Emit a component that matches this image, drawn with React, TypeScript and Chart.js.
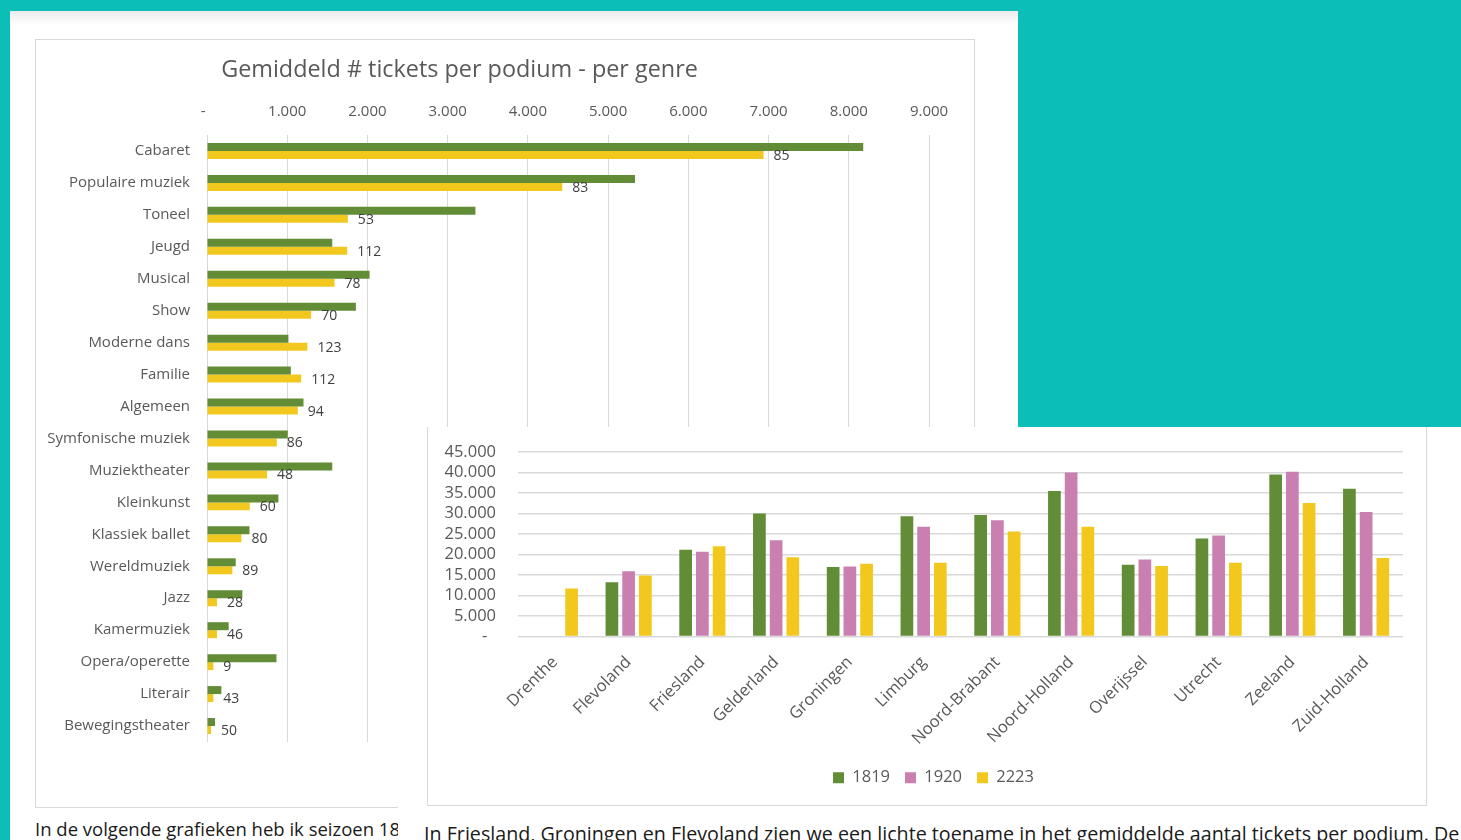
import React, { useEffect, useRef } from "react";
import { Chart, registerables } from "chart.js";

Chart.register(...registerables);

// ---------- Chart 1: Gemiddeld # tickets per podium - per genre ----------
const genres = [
  "Cabaret",
  "Populaire muziek",
  "Toneel",
  "Jeugd",
  "Musical",
  "Show",
  "Moderne dans",
  "Familie",
  "Algemeen",
  "Symfonische muziek",
  "Muziektheater",
  "Kleinkunst",
  "Klassiek ballet",
  "Wereldmuziek",
  "Jazz",
  "Kamermuziek",
  "Opera/operette",
  "Literair",
  "Bewegingstheater",
];
const genreTickets1819 = [8180, 5335, 3346, 1561, 2026, 1856, 1015, 1045, 1203, 1007, 1561, 890, 529, 358, 441, 270, 866, 179, 100];
const genreTickets2223 = [6937, 4428, 1756, 1748, 1590, 1298, 1252, 1174, 1132, 870, 749, 533, 429, 316, 125, 125, 79, 79, 50];
const genrePodiums2223 = [85, 83, 53, 112, 78, 70, 123, 112, 94, 86, 48, 60, 80, 89, 28, 46, 9, 43, 50];
const genreAxisMax = 9000;
const genreAxisStep = 1000;

// ---------- Chart 2: per provincie ----------
const provinces = [
  "Drenthe",
  "Flevoland",
  "Friesland",
  "Gelderland",
  "Groningen",
  "Limburg",
  "Noord-Brabant",
  "Noord-Holland",
  "Overijssel",
  "Utrecht",
  "Zeeland",
  "Zuid-Holland",
];
const province1819 = [null, 13230, 21160, 29970, 16950, 29330, 29650, 35480, 17520, 23900, 39520, 36040];
const province1920 = [null, 15900, 20670, 23500, 17100, 26740, 28350, 40000, 18800, 24630, 40170, 30380];
const province2223 = [11700, 14850, 22040, 19300, 17760, 18000, 25600, 26740, 17190, 18000, 32570, 19130];
const provinceAxisMax = 45000;
const provinceAxisStep = 5000;

const GREEN = "#628d36";
const PINK = "#c980b1";
const YELLOW = "#f2c81e";
const GRID = "#d9d9d9";
const TEXT = "#595959";
const FONT = "'Open Sans', sans-serif";
const TEAL = "#0bbfb8";

function fmtThousands(v: number, dash: string): string {
  if (v === 0) return dash;
  return String(Math.round(v)).replace(/\B(?=(\d{3})+(?!\d))/g, ".");
}

const barLabelPlugin = {
  id: "barLabels",
  afterDatasetsDraw(chart: any) {
    const meta = chart.getDatasetMeta(1);
    const ctx = chart.ctx;
    ctx.save();
    ctx.font = `14px ${FONT}`;
    ctx.fillStyle = "#404040";
    ctx.textAlign = "left";
    ctx.textBaseline = "middle";
    meta.data.forEach((el: any, i: number) => {
      ctx.fillText(String(genrePodiums2223[i]), el.x + 10, el.y + 1);
    });
    ctx.restore();
  },
};

function GenreChart() {
  const ref = useRef<HTMLCanvasElement | null>(null);
  useEffect(() => {
    if (!ref.current) return;
    const chart = new Chart(ref.current, {
      type: "bar",
      data: {
        labels: genres,
        datasets: [
          {
            label: "1819",
            data: genreTickets1819,
            backgroundColor: GREEN,
            categoryPercentage: 0.5,
            barPercentage: 1.0,
          },
          {
            label: "2223",
            data: genreTickets2223,
            backgroundColor: YELLOW,
            categoryPercentage: 0.5,
            barPercentage: 1.0,
          },
        ],
      },
      options: {
        indexAxis: "y",
        animation: false,
        responsive: false,
        layout: { padding: { left: 0, right: 31, top: 0, bottom: 65 } },
        plugins: {
          legend: { display: false },
          tooltip: { enabled: false },
          title: {
            display: true,
            text: "Gemiddeld # tickets per podium - per genre",
            color: TEXT,
            font: { family: FONT, size: 23.4, weight: "normal" },
            padding: { top: 15, bottom: 8 },
          },
        },
        scales: {
          x: {
            position: "top",
            min: 0,
            max: genreAxisMax,
            ticks: {
              stepSize: genreAxisStep,
              color: TEXT,
              font: { family: FONT, size: 15 },
              padding: 14,
              maxRotation: 0,
              callback: (v: any) => fmtThousands(Number(v), "-  "),
            },
            grid: { color: GRID, drawTicks: false, lineWidth: 1 },
            border: { display: false },
            afterFit: (s: any) => {
              s.height = 42.9;
              s.paddingLeft = 0;
              s.paddingRight = 0;
            },
          },
          y: {
            ticks: {
              color: TEXT,
              font: { family: FONT, size: 15 },
              padding: 17,
              autoSkip: false,
            },
            grid: { display: false, drawTicks: false },
            border: { display: false },
            afterFit: (s: any) => {
              s.width = 217;
              s.paddingTop = 0;
              s.paddingBottom = 0;
            },
          },
        },
      },
      plugins: [barLabelPlugin],
    } as any);
    return () => chart.destroy();
  }, []);
  return (
    <canvas
      ref={ref}
      width={970}
      height={766}
      style={{ position: "absolute", left: -10, top: 41, width: 970, height: 766 }}
    />
  );
}

function ProvinceChart() {
  const ref = useRef<HTMLCanvasElement | null>(null);
  useEffect(() => {
    if (!ref.current) return;
    const chart = new Chart(ref.current, {
      type: "bar",
      data: {
        labels: provinces,
        datasets: [
          { label: "1819", data: province1819, backgroundColor: GREEN, categoryPercentage: 0.68, barPercentage: 0.76 },
          { label: "1920", data: province1920, backgroundColor: PINK, categoryPercentage: 0.68, barPercentage: 0.76 },
          { label: "2223", data: province2223, backgroundColor: YELLOW, categoryPercentage: 0.68, barPercentage: 0.76 },
        ],
      },
      options: {
        animation: false,
        responsive: false,
        layout: { padding: { left: 0, right: 0, top: 23, bottom: 8 } },
        plugins: {
          tooltip: { enabled: false },
          title: { display: false },
          legend: {
            display: true,
            position: "bottom",
            labels: {
              boxWidth: 11,
              boxHeight: 11,
              padding: 15,
              color: TEXT,
              font: { family: FONT, size: 16.5 },
            },
          },
        },
        scales: {
          x: {
            ticks: {
              color: TEXT,
              font: { family: FONT, size: 16.5 },
              minRotation: 45,
              maxRotation: 45,
              padding: 16,
              autoSkip: false,
            },
            grid: { display: false, drawTicks: false },
            border: { display: false },
            afterFit: (s: any) => {
              s.height = 118;
              s.paddingLeft = 0;
              s.paddingRight = 0;
            },
          },
          y: {
            min: 0,
            max: provinceAxisMax,
            ticks: {
              stepSize: provinceAxisStep,
              autoSkip: false,
              color: TEXT,
              font: { family: FONT, size: 16.5 },
              padding: 22,
              callback: (v: any) => fmtThousands(Number(v), "-  "),
            },
            grid: { color: GRID, drawTicks: false, lineWidth: 1.5 },
            border: { display: false },
            afterFit: (s: any) => {
              s.width = 88;
              s.paddingTop = 0;
              s.paddingBottom = 0;
            },
          },
          spacer: {
            type: "linear",
            position: "right",
            display: true,
            ticks: { display: false },
            grid: { display: false, drawTicks: false },
            border: { display: false },
            afterFit: (s: any) => {
              s.width = 34;
              s.paddingTop = 0;
              s.paddingBottom = 0;
            },
          },
        },
      },
    } as any);
    return () => chart.destroy();
  }, []);
  return (
    <canvas
      ref={ref}
      width={1007}
      height={375}
      style={{ position: "absolute", left: 430, top: 429, width: 1007, height: 375 }}
    />
  );
}

export default function App() {
  return (
    <div
      style={{
        position: "fixed",
        left: 0,
        top: 0,
        width: 1461,
        height: 840,
        overflow: "hidden",
        background: TEAL,
        fontFamily: FONT,
      }}
    >
      {/* first screenshot panel */}
      <div
        style={{
          position: "absolute",
          left: 10,
          top: 11,
          width: 1008,
          height: 829,
          background: "linear-gradient(#ebebeb 0px, #ffffff 14px)",
        }}
      />
      <div
        style={{
          position: "absolute",
          left: 35,
          top: 39,
          width: 938,
          height: 767,
          border: "1px solid #d9d9d9",
        }}
      />
      <GenreChart />
      <div
        style={{
          position: "absolute",
          left: 35,
          top: 816,
          fontSize: 18.5,
          color: "#1a1a1a",
          whiteSpace: "nowrap",
        }}
      >
        In de volgende grafieken heb ik seizoen 1819, 1920 en 2223 vergeleken.
      </div>

      {/* second screenshot panel */}
      <div
        style={{
          position: "absolute",
          left: 398,
          top: 427,
          width: 1063,
          height: 413,
          background: "#ffffff",
          overflow: "hidden",
        }}
      >
        <div
          style={{
            position: "absolute",
            left: 29,
            top: -10,
            width: 998,
            height: 387,
            border: "1px solid #d9d9d9",
          }}
        />
        <div
          style={{
            position: "absolute",
            left: 26,
            top: 393,
            fontSize: 19.7,
            color: "#1a1a1a",
            whiteSpace: "nowrap",
          }}
        >
          In Friesland, Groningen en Flevoland zien we een lichte toename in het gemiddelde aantal tickets per podium. De
        </div>
      </div>
      <ProvinceChart />
    </div>
  );
}
